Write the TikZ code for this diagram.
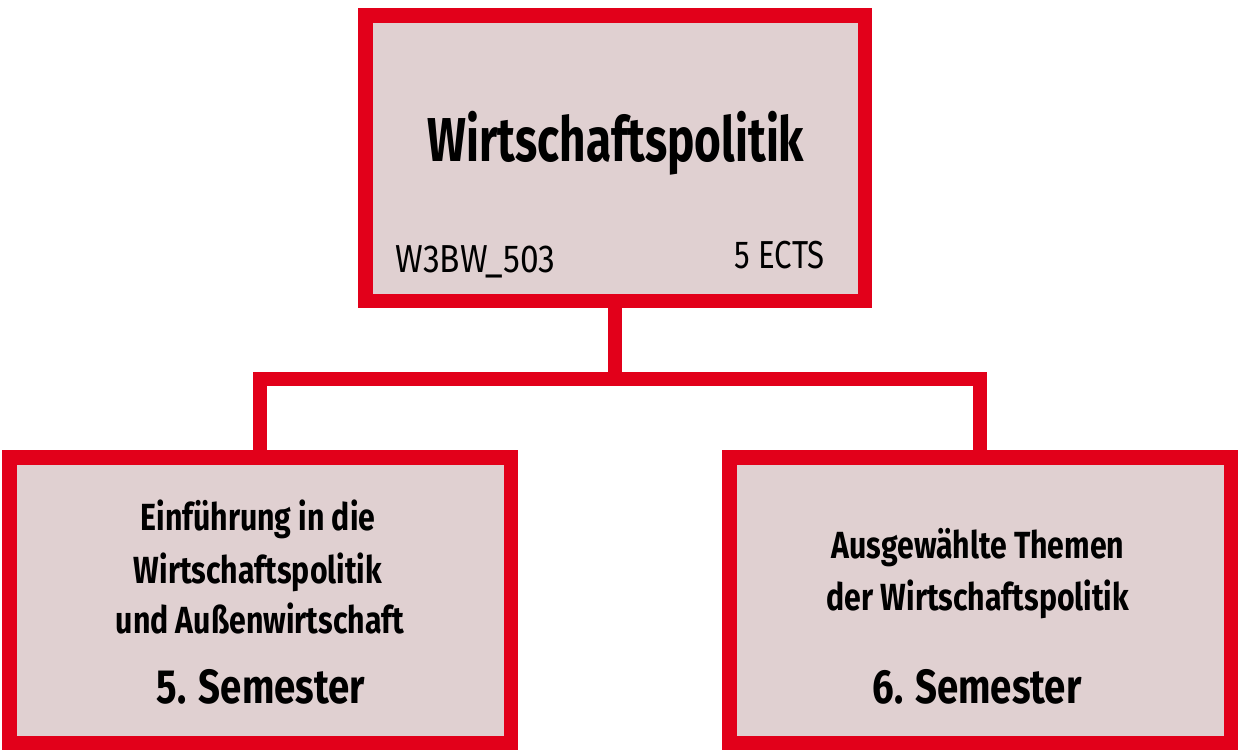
\documentclass[tikz,border=0pt]{standalone}
\usepackage{fontspec}
\setmainfont{Fira Sans}[FakeStretch=0.8]
\newfontfamily\titlefont{Fira Sans}[FakeStretch=0.74]
\newfontfamily\codefont{Fira Sans}[FakeStretch=0.86]
\usetikzlibrary{positioning}
\definecolor{dhred}{HTML}{E2001A}
\definecolor{boxfill}{HTML}{E0D0D1}
\tikzset{
  modbox/.style={draw=dhred, fill=boxfill, line width=7.25pt, inner sep=0pt,
    minimum width=250.75pt, minimum height=142.75pt},
  link/.style={draw=dhred, line width=7.25pt},
  titletext/.style={font=\titlefont\bfseries\fontsize{31}{36}\selectfont, anchor=base, inner sep=0pt},
  codetext/.style={font=\codefont\fontsize{19.5}{24}\selectfont, inner sep=0pt},
  subtext/.style={font=\bfseries\fontsize{18.9}{24}\selectfont, anchor=base, inner sep=0pt},
  semtext/.style={font=\bfseries\fontsize{24}{28}\selectfont, anchor=base, inner sep=0pt}
}
\begin{document}
\begin{tikzpicture}[x=0.5pt,y=-0.5pt]
  \useasboundingbox (0,0) rectangle (1238,755);
  % boxes
  \node[modbox, minimum width=249.75pt] (modul) at (615,158) {};
  \node[modbox] (left) at (260,600) {};
  \node[modbox] (right) at (980,600) {};
  % connectors
  \coordinate (bar) at (615,379);
  \draw[link] (modul.south) -- (bar) -| (left.north);
  \draw[link] (bar) -| (right.north);
  % module texts
  \node[titletext] (title) at (616,161) {Wirtschaftspolitik};
  \node[codetext, anchor=base west] (code) at (395,272) {W3BW\_503};
  \node[codetext, font=\rmfamily\fontsize{19.5}{24}\selectfont, anchor=base east] (ects) at (825,268) {5 ECTS};
  % left part
  \node[subtext] (l1) at (258,530) {Einführung in die};
  \node[subtext] (l2) at (258,583) {Wirtschaftspolitik};
  \node[subtext] (l3) at (260,633) {und Außenwirtschaft};
  \node[semtext] (lsem) at (261,703) {5. Semester};
  % right part
  \node[subtext] (r1) at (978,558) {Ausgewählte Themen};
  \node[subtext] (r2) at (978,610) {der Wirtschaftspolitik};
  \node[semtext] (rsem) at (977,703) {6. Semester};
\end{tikzpicture}
\end{document}
